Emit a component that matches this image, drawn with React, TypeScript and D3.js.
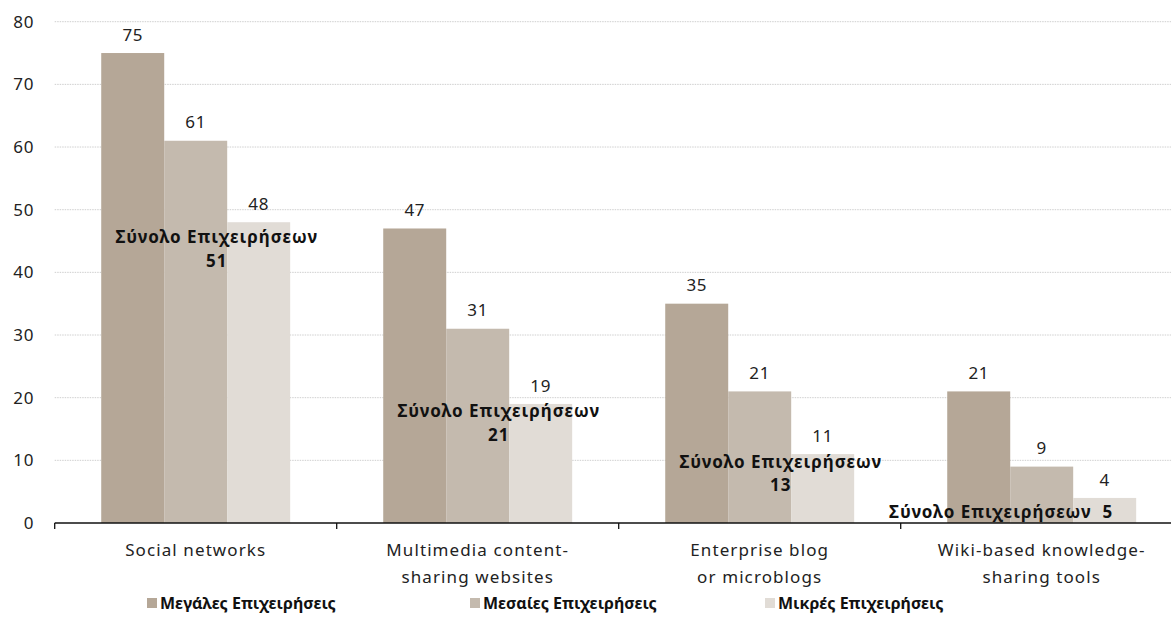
import React from 'react';
import * as d3 from 'd3';

const categories = [
  ['Social networks'],
  ['Multimedia content-', 'sharing websites'],
  ['Enterprise blog', 'or microblogs'],
  ['Wiki-based knowledge-', 'sharing tools'],
];
const seriesNames = ['Μεγάλες Επιχειρήσεις', 'Μεσαίες Επιχειρήσεις', 'Μικρές Επιχειρήσεις'];
const large = [75, 47, 35, 21];
const medium = [61, 31, 21, 9];
const small = [48, 19, 11, 4];
const totals = [51, 21, 13, 5];
const totalLabel = 'Σύνολο Επιχειρήσεων';
const yTicks = [0, 10, 20, 30, 40, 50, 60, 70, 80];

const colors = ['#b5a797', '#c4baae', '#e1dcd6'];
const font = '"Noto Sans", sans-serif';

export default function App() {
  const width = 1171;
  const height = 638;
  const series = [large, medium, small];

  // band for categories, extends a bit past the right edge like the original
  const x = d3.scaleBand<number>()
    .domain(d3.range(categories.length))
    .range([54.7, 1182.7])
    .paddingInner(0)
    .paddingOuter(0);
  const gw = x.bandwidth();
  const xs = d3.scaleBand<number>()
    .domain(d3.range(series.length))
    .range([gw * 0.165, gw * 0.835]);

  const y = d3.scaleLinear().domain([0, 80]).range([523, 21.7]);

  const legendX = [147, 470, 765];

  return (
    <svg width={width} height={height} style={{ position: 'absolute', left: 0, top: 0 }} fontFamily={font}>
      <rect width={width} height={height} fill="#fff" />
      {/* grid + y labels */}
      {yTicks.map((t) => (
        <g key={t}>
          {t > 0 && (
            <line x1={54.7} x2={width} y1={y(t)} y2={y(t)} stroke="#cfcfcf" strokeWidth={1} strokeDasharray="1.5 1" />
          )}
          <text x={34} y={y(t) + 6} textAnchor="end" fontSize={17} letterSpacing={0.6} fill="#222">{t}</text>
        </g>
      ))}

      {/* bars */}
      {categories.map((c, i) => (
        <g key={i} transform={`translate(${x(i)},0)`}>
          {series.map((s, j) => (
            <g key={j}>
              <rect x={xs(j)} y={y(s[i])} width={xs.bandwidth()} height={y(0) - y(s[i])} fill={colors[j]} />
              <text x={xs(j)! + xs.bandwidth() / 2} y={y(s[i]) - 12.3} textAnchor="middle" fontSize={17} letterSpacing={0.6} fill="#222">{s[i]}</text>
            </g>
          ))}
        </g>
      ))}

      {/* axis */}
      <line x1={54.7} x2={width} y1={y(0)} y2={y(0)} stroke="#111" strokeWidth={1.3} />
      {categories.map((c, i) => (
        <g key={i}>
          <line x1={x(i)} x2={x(i)} y1={y(0)} y2={y(0) + 6} stroke="#111" strokeWidth={1.3} />
          {c.map((line, k) => (
            <text key={k} x={x(i)! + gw / 2} y={556 + k * 26.5} textAnchor="middle" fontSize={17} letterSpacing={1.1} fill="#222">{line}</text>
          ))}
        </g>
      ))}

      {/* total labels */}
      {totals.map((t, i) => {
        const last = i === totals.length - 1;
        const cx = x(i)! + gw / 2 + 21;
        const by = y(t) + (i === 0 ? 40 : 26);
        if (last) {
          const endX = x(i)! + xs(2)! + xs.bandwidth() - 23;
          return (
            <text key={i} x={endX} y={by} textAnchor="end" fontSize={17} fontWeight="bold" letterSpacing={1} fill="#111" style={{ whiteSpace: 'pre' }}>
              {`${totalLabel}  ${t}`}
            </text>
          );
        }
        return (
          <g key={i}>
            <text x={cx} y={by} textAnchor="middle" fontSize={17} fontWeight="bold" letterSpacing={1} fill="#111">{totalLabel}</text>
            <text x={cx} y={by + 23.5} textAnchor="middle" fontSize={17} fontWeight="bold" letterSpacing={1} fill="#111">{t}</text>
          </g>
        );
      })}

      {/* legend */}
      {seriesNames.map((n, j) => (
        <g key={n} transform={`translate(${legendX[j]},603)`}>
          <rect x={0} y={-5} width={10} height={10} fill={colors[j]} />
          <text x={13} y={6} fontSize={16} fontWeight="bold" fill="#111">{n}</text>
        </g>
      ))}
    </svg>
  );
}
